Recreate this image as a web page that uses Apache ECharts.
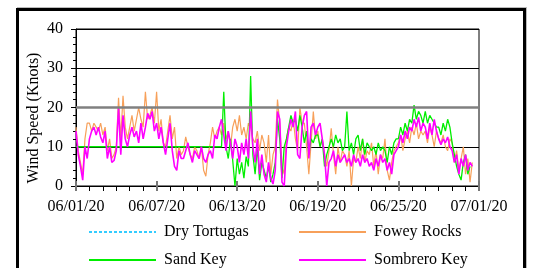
<!DOCTYPE html>
<html>
<head>
    <meta charset="utf-8">
    <title>Wind Speed</title>
    <script src="https://cdn.jsdelivr.net/npm/echarts@6/dist/echarts.min.js"></script>
    <style>
        body { margin: 0; background: #fff; }
        #frame { position: absolute; left: 16px; top: 8px; width: 504px; height: 300px;
                 border: 3px solid #000; box-shadow: 1px -1px 0 #bbb; pointer-events: none; z-index: 5; }
    </style>
</head>
<body>
    <div id="main" style="width: 535px;height:268px;"></div>
    <div id="frame"></div>
    <script type="text/javascript">
        // tick labels, one per 6 days
        var dateLabels = ['06/01/20', '06/07/20', '06/13/20', '06/19/20', '06/25/20', '07/01/20'];
        var stepDays = 1 / 6;   // readings every 4 hours

        var dryTortugas = [];   // no data shown

        var foweyRocks = [
            15, 9, 6, 3, 12, 16,
            16, 14, 16, 15, 14, 16,
            13, 15, 9, 12, 7, 8,
            10, 22.5, 12, 23, 15, 12,
            15, 18, 14, 17, 20, 17,
            15, 24, 17, 18, 20, 16,
            24, 14, 17, 11, 10, 14,
            18, 12, 15, 7, 10, 8,
            9, 12.5, 10, 8, 7, 10,
            9, 7, 10, 4, 2.5, 8,
            11, 15, 12, 14, 15, 13,
            16, 12, 14, 10, 15, 17,
            14, 18, 13, 15, 12, 16,
            15, 12, 11, 14, 9, 13,
            11, 6, 13, 3, 8, 10,
            22, 16, 5, 3, 12, 15,
            14, 17, 12, 9, 20, 16,
            16, 10, 3, 11, 19, 12,
            14, 10, 12, 8, 5, 9,
            14.7, 8, 3, 10, 6, 9,
            8, 5, 9, 0, 7, 6,
            10, 7, 12, 6, 9, 8,
            11, 5, 9, 3, 8, 7,
            12, 4, 1.5, 6, 9, 10,
            11, 13, 9, 12, 14, 11,
            15, 13, 16, 12, 14, 13,
            14, 11, 15, 13, 10, 14,
            12, 11, 13, 10, 9, 12,
            11, 6, 9, 4, 7, 10,
            3, 7, 1, 6
        ];

        var sandKey = [
            10, 10, 10, 10, 10, 10,
            10, 10, 10, 10, 10, 10,
            10, 10, 10, 10, 10, 10,
            10, 10, 10, 10, 10, 10,
            10, 10, 10, 10, 10, 10,
            10, 10, 10, 10, 10, 10,
            10, 10, 10, 10, 10, 10,
            10, 10, 10, 10, 10, 10,
            10, 10, 10, 10, 10, 10,
            10, 10, 10, 10, 10, 10,
            10, 10, 10, 10, 10, 10,
            24, 10, 7, 12, 6.5, 0,
            7, 3, 6, 2, 7.5, 5,
            28, 8, 3, 10, 1.5, 6,
            4, 2, 5, 1, 3, 6,
            17, 12, 2, 10, 12, 15,
            18, 16, 17, 14, 18, 15,
            11, 14, 8, 12, 11, 13,
            13, 10, 12, 5, 8, 10,
            12, 10, 13, 11, 12, 9,
            10, 19, 9, 11, 8, 12,
            13, 9, 12, 8, 11, 10,
            9, 10, 8, 11, 9, 10,
            9, 6, 10, 8, 11, 12,
            12, 15, 13, 16, 14, 17,
            16, 20.6, 17, 19, 18, 16,
            19, 16, 18, 17, 16, 15,
            15, 13, 16, 14, 17, 15,
            11, 8, 5, 3, 1.5, 6,
            8, 3, 5
        ];

        var sombreroKey = [
            14, 8, 5, 1.5, 10, 7,
            12, 14, 15, 13, 15, 12.5,
            11, 14, 7, 10, 6, 6.5,
            9, 20, 8, 18, 12, 10,
            13, 15, 12.5, 14, 11, 16,
            12, 15, 18.5, 17, 19, 14,
            16, 12, 15, 11, 8, 12,
            16, 9, 5, 4, 9, 7,
            7, 9, 11, 8, 6, 9,
            8, 7, 10, 7, 6, 8,
            9, 7, 13, 12, 15, 17,
            13, 9, 14, 11, 7, 12,
            10, 6, 11, 8, 12, 7,
            19, 10, 6, 12, 3, 8,
            3, 1, 6, 2, 0.5, 4,
            19, 17, 1, 0, 10, 14,
            17, 15, 19, 8, 7, 15,
            18, 19, 7, 15, 16, 13,
            15, 16, 12, 8, 0, 6,
            7, 9, 5, 8, 6, 7,
            8, 6, 7, 5, 8, 6,
            7, 5, 8, 6, 7, 5,
            6, 4, 7, 5, 8, 6,
            7, 4, 6, 3, 8, 9,
            10, 13, 11, 14, 12, 15,
            14, 17, 15, 17.5, 14, 16,
            15, 12, 16, 13, 17, 14,
            12, 10.5, 12, 11, 12.5, 10,
            9, 6, 8, 3, 7, 5,
            8, 4, 6, 5
        ];

        function toPoints(arr) {
            return arr.map(function (v, i) { return [i * stepDays, v]; });
        }

        var font = "'Liberation Serif', 'Times New Roman', serif";
        var myChart = echarts.init(document.getElementById('main'));

        var legendBase = {
            orient: 'vertical', top: 224, padding: 0,
            itemWidth: 67, itemHeight: 16, itemGap: 12,
            itemStyle: { opacity: 0 },
            textStyle: { fontFamily: font, fontSize: 16, color: '#000', lineHeight: 16, padding: [0, 0, 0, 3] }
        };

        var option = {
            animation: false,
            textStyle: { fontFamily: font },
            grid: { left: 76, top: 29, right: 56, bottom: 82, show: true, borderColor: '#000', borderWidth: 1 },
            legend: [
                Object.assign({ data: ['Dry Tortugas', 'Sand Key'], left: 88 }, legendBase),
                Object.assign({ data: ['Fowey Rocks', 'Sombrero Key'], left: 298 }, legendBase)
            ],
            graphic: [{
                type: 'text', x: 34, y: 118, rotation: Math.PI / 2,
                style: {
                    text: 'Wind Speed (Knots)', fill: '#000', font: '16px ' + font,
                    align: 'center', verticalAlign: 'middle'
                }
            }],
            xAxis: [
                {
                    type: 'value', min: 0, max: 30, interval: 6,
                    axisLine: { lineStyle: { color: '#000', width: 1 } },
                    axisTick: { length: 5, lineStyle: { color: '#777', width: 2 } },
                    minorTick: { show: true, splitNumber: 6, length: 5, lineStyle: { color: '#000', width: 1 } },
                    splitLine: { show: false },
                    axisLabel: {
                        margin: 13, fontFamily: font, fontSize: 16, color: '#000',
                        formatter: function (v) { return dateLabels[Math.round(v / 6)]; }
                    }
                },
                {
                    type: 'value', min: 0, max: 30, interval: 6, position: 'bottom',
                    axisLine: { show: false },
                    axisTick: { inside: true, length: 5, lineStyle: { color: '#777', width: 2 } },
                    axisLabel: { show: false },
                    splitLine: { show: false }
                }
            ],
            yAxis: {
                type: 'value', min: 0, max: 40, interval: 10,
                axisLine: { show: true, lineStyle: { color: '#000', width: 1 } },
                axisTick: { length: 5, lineStyle: { color: '#000' } },
                minorTick: { show: true, splitNumber: 5, length: 3, lineStyle: { color: '#000' } },
                splitLine: { lineStyle: { color: ['#000', '#000', '#808080', '#000', '#000'], width: 1 } },
                axisLabel: { margin: 13, fontFamily: font, fontSize: 16, color: '#000' }
            },
            series: [
                {
                    name: 'Dry Tortugas', type: 'line', showSymbol: false, symbol: 'none',
                    data: toPoints(dryTortugas),
                    itemStyle: { color: '#33ccff' },
                    lineStyle: { color: '#33ccff', width: 1, type: [3, 2] },
                    markLine: {
                        silent: true, symbol: 'none', label: { show: false },
                        lineStyle: { color: '#808080', width: 2.5, type: 'solid' },
                        data: [{ yAxis: 20 }]
                    }
                },
                {
                    name: 'Fowey Rocks', type: 'line', showSymbol: false, symbol: 'none',
                    data: toPoints(foweyRocks),
                    itemStyle: { color: '#f7a05a' },
                    lineStyle: { color: '#f7a05a', width: 1.2 }
                },
                {
                    name: 'Sand Key', type: 'line', showSymbol: false, symbol: 'none',
                    data: toPoints(sandKey),
                    itemStyle: { color: '#00ee00' },
                    lineStyle: { color: '#00ee00', width: 1.3 }
                },
                {
                    name: 'Sombrero Key', type: 'line', showSymbol: false, symbol: 'none',
                    data: toPoints(sombreroKey),
                    itemStyle: { color: '#ff00ff' },
                    lineStyle: { color: '#ff00ff', width: 1.6 }
                }
            ]
        };

        myChart.setOption(option);
    </script>
</body>
</html>
